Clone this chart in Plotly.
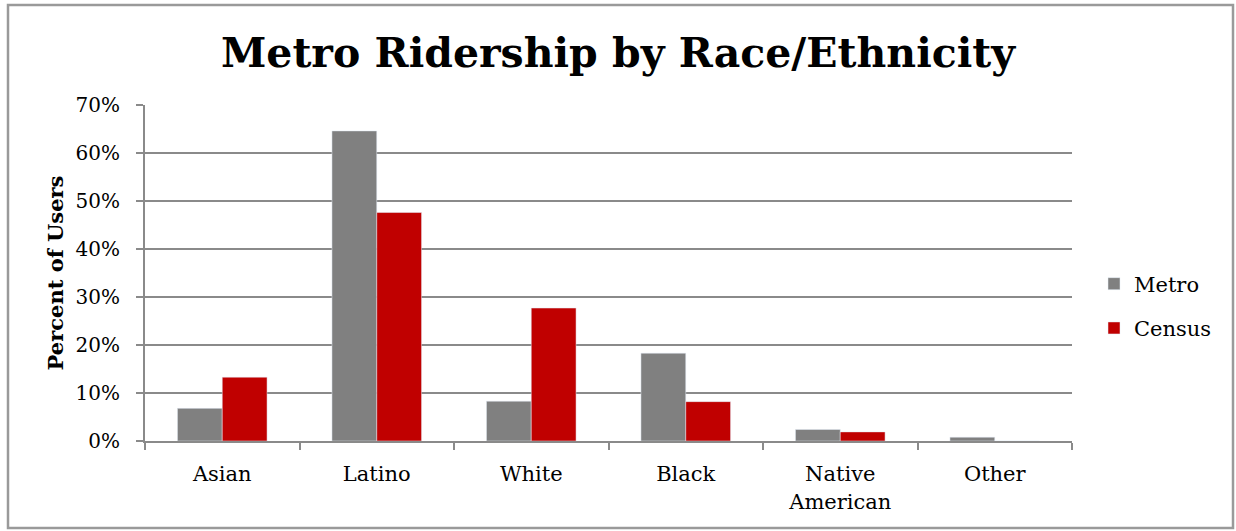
import plotly.graph_objects as go

categories = ["Asian", "Latino", "White", "Black", "Native<br>American", "Other"]
metro = [6.8, 64.6, 8.3, 18.3, 2.4, 0.8]
census = [13.3, 47.6, 27.7, 8.2, 1.9, 0.0]
y_ticks = [0, 10, 20, 30, 40, 50, 60, 70]
y_tick_labels = ["0%", "10%", "20%", "30%", "40%", "50%", "60%", "70%"]

W, H = 1236, 531
L, R, T, B = 145, 1072, 105, 441  # plot area in pixels
FONT = "DejaVu Serif"
GRID = "#8a8a8a"

fig = go.Figure()
fig.add_trace(go.Bar(name="Metro", x=categories, y=metro, marker_color="#808080",
                     legendgroup="a"))
fig.add_trace(go.Bar(name="Census", x=categories, y=census, marker_color="#C00000",
                     legendgroup="b"))

def px_x(p):
    return (p - L) / (R - L)

def px_y(p):
    return (B - p) / (B - T)

fig.add_shape(type="rect", xref="paper", yref="paper",
              x0=px_x(8), x1=px_x(1233), y0=px_y(528), y1=px_y(5),
              line=dict(color="#9a9a9a", width=2.5), layer="below")

fig.update_layout(
    width=W, height=H,
    margin=dict(l=L, r=W - R, t=T, b=H - B, autoexpand=False),
    paper_bgcolor="white", plot_bgcolor="white",
    barmode="group", bargap=0.42, bargroupgap=0,
    font=dict(family=FONT, color="black", size=21),
    title=dict(text="<b>Metro Ridership by Race/Ethnicity</b>", x=0.5, xanchor="center",
               y=1 - 53 / H, yanchor="middle", font=dict(family=FONT, size=41, color="black")),
    legend=dict(x=px_x(1094), xanchor="left", y=px_y(306), yanchor="middle",
                font=dict(family=FONT, size=21), tracegroupgap=14, itemwidth=30,
                bgcolor="rgba(0,0,0,0)"),
    xaxis=dict(showline=True, linecolor=GRID, linewidth=2, ticks="outside",
               tickson="boundaries", ticklen=7, tickcolor=GRID, tickwidth=2,
               tickfont=dict(family=FONT, size=21), ticklabelstandoff=13,
               showgrid=False),
    yaxis=dict(range=[0, 70], tickmode="array", tickvals=y_ticks, ticktext=y_tick_labels,
               showline=True, linecolor=GRID, linewidth=2, ticks="outside", ticklen=7,
               tickcolor=GRID, tickwidth=2, showgrid=True, gridcolor=GRID,
               gridwidth=2, zeroline=False, tickfont=dict(family=FONT, size=20),
               ticklabelstandoff=12,
               title=dict(text="<b>Percent of Users</b>", font=dict(family=FONT, size=21),
                          standoff=6)),
)

fig.write_html("out.html", config={"displayModeBar": False},
               post_script="document.body.style.margin='0';document.body.style.padding='0';")
